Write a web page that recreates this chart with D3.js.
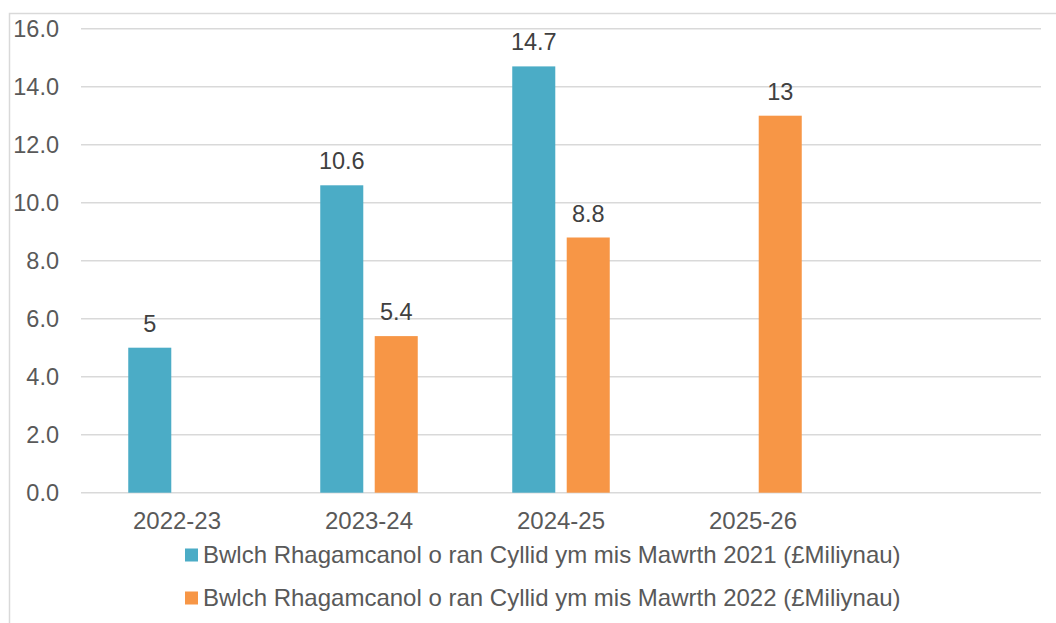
<!DOCTYPE html>
<html>
<head>
<meta charset="utf-8">
<script src="https://cdn.jsdelivr.net/npm/d3@7"></script>
<style>
  body { margin: 0; background: #fff; }
  text { font-family: "Liberation Sans", Arial, sans-serif; }
</style>
</head>
<body>
<svg id="chart"></svg>
<script>
// data
const categories = ["2022-23", "2023-24", "2024-25", "2025-26", ""];
const seriesNames = [
  "Bwlch Rhagamcanol o ran Cyllid ym mis Mawrth 2021 (£Miliynau)",
  "Bwlch Rhagamcanol o ran Cyllid ym mis Mawrth 2022 (£Miliynau)"
];
const march2021 = [5, 10.6, 14.7, null, null];
const march2022 = [null, 5.4, 8.8, 13, null];
const yTicks = [0, 2, 4, 6, 8, 10, 12, 14, 16];

const colors = ["#4bacc6", "#f79646"];
const width = 1056, height = 623;

const svg = d3.select("#chart").attr("width", width).attr("height", height);

// outer chart border (only top and left are visible in the picture)
svg.append("path")
  .attr("d", "M9.5,623 L9.5,13.5 L1056,13.5")
  .attr("fill", "none")
  .attr("stroke", "#d9d9d9")
  .attr("stroke-width", 1.5);

const x = d3.scaleBand().domain(categories.map((c, i) => i)).range([81, 1041]);
const groupW = 97.5;
const xSub = d3.scaleBand().domain([0, 1]).range([0, groupW]).paddingInner(0.21);
const y = d3.scaleLinear().domain([0, 16]).range([492.7, 28.7]);

// gridlines
svg.append("g")
  .selectAll("line")
  .data(yTicks)
  .enter()
  .append("line")
  .attr("x1", 81)
  .attr("x2", 1041)
  .attr("y1", (d) => y(d))
  .attr("y2", (d) => y(d))
  .attr("stroke", "#d9d9d9")
  .attr("stroke-width", 1.6);

// y tick labels
svg.append("g")
  .selectAll("text")
  .data(yTicks)
  .enter()
  .append("text")
  .attr("x", 59)
  .attr("y", (d) => y(d))
  .attr("dy", "0.35em")
  .attr("text-anchor", "end")
  .attr("font-size", 23.5)
  .attr("fill", "#595959")
  .text((d) => d.toFixed(1));

// x labels
svg.append("g")
  .selectAll("text")
  .data(categories)
  .enter()
  .append("text")
  .attr("x", (d, i) => x(i) + x.bandwidth() / 2)
  .attr("y", 529)
  .attr("text-anchor", "middle")
  .attr("font-size", 24)
  .attr("fill", "#595959")
  .text((d) => d);

// bars + value labels
const allSeries = [march2021, march2022];
const offset = (x.bandwidth() - groupW) / 2;
allSeries.forEach((vals, s) => {
  const pts = vals.map((v, i) => ({ v, i })).filter((d) => d.v !== null);
  const g = svg.append("g");
  g.selectAll("rect")
    .data(pts)
    .enter()
    .append("rect")
    .attr("x", (d) => x(d.i) + offset + xSub(s))
    .attr("y", (d) => y(d.v))
    .attr("width", xSub.bandwidth())
    .attr("height", (d) => y(0) - y(d.v))
    .attr("fill", colors[s]);
  g.selectAll("text")
    .data(pts)
    .enter()
    .append("text")
    .attr("x", (d) => x(d.i) + offset + xSub(s) + xSub.bandwidth() / 2)
    .attr("y", (d) => y(d.v) - 16)
    .attr("text-anchor", "middle")
    .attr("font-size", 23.5)
    .attr("fill", "#404040")
    .text((d) => String(d.v));
});

// legend
const legend = svg.append("g")
  .selectAll("g")
  .data(seriesNames)
  .enter()
  .append("g")
  .attr("transform", (d, i) => `translate(185, ${555 + i * 43})`);
legend.append("rect")
  .attr("x", 0)
  .attr("y", -6.5)
  .attr("width", 13)
  .attr("height", 13)
  .attr("fill", (d, i) => colors[i]);
legend.append("text")
  .attr("x", 18)
  .attr("y", 0)
  .attr("dy", "0.35em")
  .attr("font-size", 24)
  .attr("fill", "#595959")
  .text((d) => d);
</script>
</body>
</html>
